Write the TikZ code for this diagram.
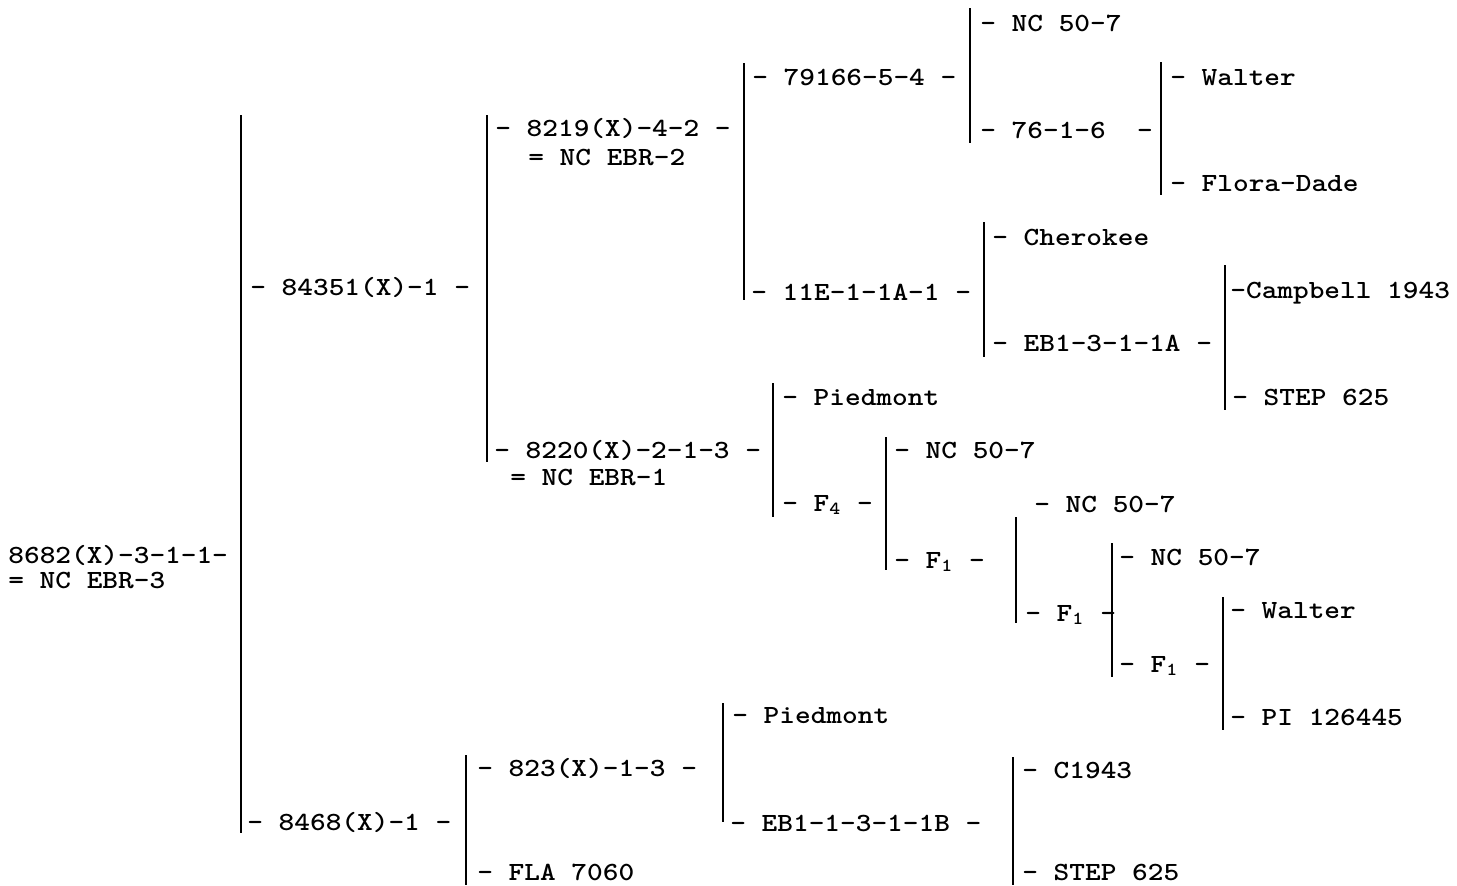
\documentclass[tikz,border=0pt]{standalone}
\usepackage{fontspec}
\newcommand\tx[1]{\scalebox{1.14}[1]{#1}}
\tikzset{
  lbl/.style={anchor=base west, inner sep=0pt, font=\ttfamily\bfseries\fontsize{13.1}{14}\selectfont},
  bar/.style={line width=1.3pt}
}
\begin{document}
\begin{tikzpicture}[x=0.5pt,y=-0.5pt]
\fill[white] (0,0) rectangle (1457,885);
\useasboundingbox (0,0) rectangle (1457,885);

% text nodes
\node[lbl] (root)  at (8,563)    {\tx{8682(X)-3-1-1-}};
\node[lbl] (rootb) at (8,588)    {\tx{= NC EBR-3}};
\node[lbl] (n1)    at (250,295)  {\tx{- 84351(X)-1 -}};
\node[lbl] (n2)    at (247,830)  {\tx{- 8468(X)-1 -}};
\node[lbl] (n11)   at (495,136)  {\tx{- 8219(X)-4-2 -}};
\node[lbl] (n11b)  at (528,165)  {\tx{= NC EBR-2}};
\node[lbl] (n12)   at (494,458)  {\tx{- 8220(X)-2-1-3 -}};
\node[lbl] (n12b)  at (510,485)  {\tx{= NC EBR-1}};
\node[lbl] (n111)  at (752,85)   {\tx{- 79166-5-4 -}};
\node[lbl] (n112)  at (751,300)  {\tx{- 11E-1-1A-1 -}};
\node[lbl] (n1111) at (980,31)   {\tx{- NC 50-7}};
\node[lbl] (n1112) at (980,138)  {\tx{- 76-1-6~~-}};
\node[lbl] (n11121) at (1170,85) {\tx{- Walter}};
\node[lbl] (n11122) at (1170,191) {\tx{- Flora-Dade}};
\node[lbl] (n1121) at (992,245)  {\tx{- Cherokee}};
\node[lbl] (n1122) at (992,351)  {\tx{- EB1-3-1-1A -}};
\node[lbl] (n11221) at (1230,298) {\tx{-Campbell 1943}};
\node[lbl] (n11222) at (1232,405) {\tx{- STEP 625}};
\node[lbl] (n121)  at (782,405)  {\tx{- Piedmont}};
\node[lbl] (n122)  at (782,511)  {\tx{- F\textsubscript{4} -}};
\node[lbl] (n1221) at (894,458)  {\tx{- NC 50-7}};
\node[lbl] (n1222) at (894,568)  {\tx{- F\textsubscript{1} -}};
\node[lbl] (n12221) at (1034,512) {\tx{- NC 50-7}};
\node[lbl] (n12222) at (1025,621) {\tx{- F\textsubscript{1} -}};
\node[lbl] (n122221) at (1119,565) {\tx{- NC 50-7}};
\node[lbl] (n122222) at (1119,672) {\tx{- F\textsubscript{1} -}};
\node[lbl] (n1222221) at (1230,618) {\tx{- Walter}};
\node[lbl] (n1222222) at (1230,725) {\tx{- PI 126445}};
\node[lbl] (n21)   at (477,776)  {\tx{- 823(X)-1-3 -}};
\node[lbl] (n22)   at (477,880)  {\tx{- FLA 7060}};
\node[lbl] (n211)  at (732,723)  {\tx{- Piedmont}};
\node[lbl] (n212)  at (730,831)  {\tx{- EB1-1-3-1-1B -}};
\node[lbl] (n2121) at (1022,778) {\tx{- C1943}};
\node[lbl] (n2122) at (1022,880) {\tx{- STEP 625}};

% bracket bars
\draw[bar] (241,115) -- (241,833);
\draw[bar] (487,115) -- (487,462);
\draw[bar] (744,63) -- (744,300);
\draw[bar] (970,8) -- (970,143);
\draw[bar] (1161,62) -- (1161,195);
\draw[bar] (984,222) -- (984,357);
\draw[bar] (1225,265) -- (1225,410);
\draw[bar] (773,383) -- (773,517);
\draw[bar] (886,437) -- (886,570);
\draw[bar] (1016,517) -- (1016,623);
\draw[bar] (1112,543) -- (1112,677);
\draw[bar] (1223,597) -- (1223,730);
\draw[bar] (723,703) -- (723,822);
\draw[bar] (466,755) -- (466,885);
\draw[bar] (1013,757) -- (1013,885);
\end{tikzpicture}
\end{document}
